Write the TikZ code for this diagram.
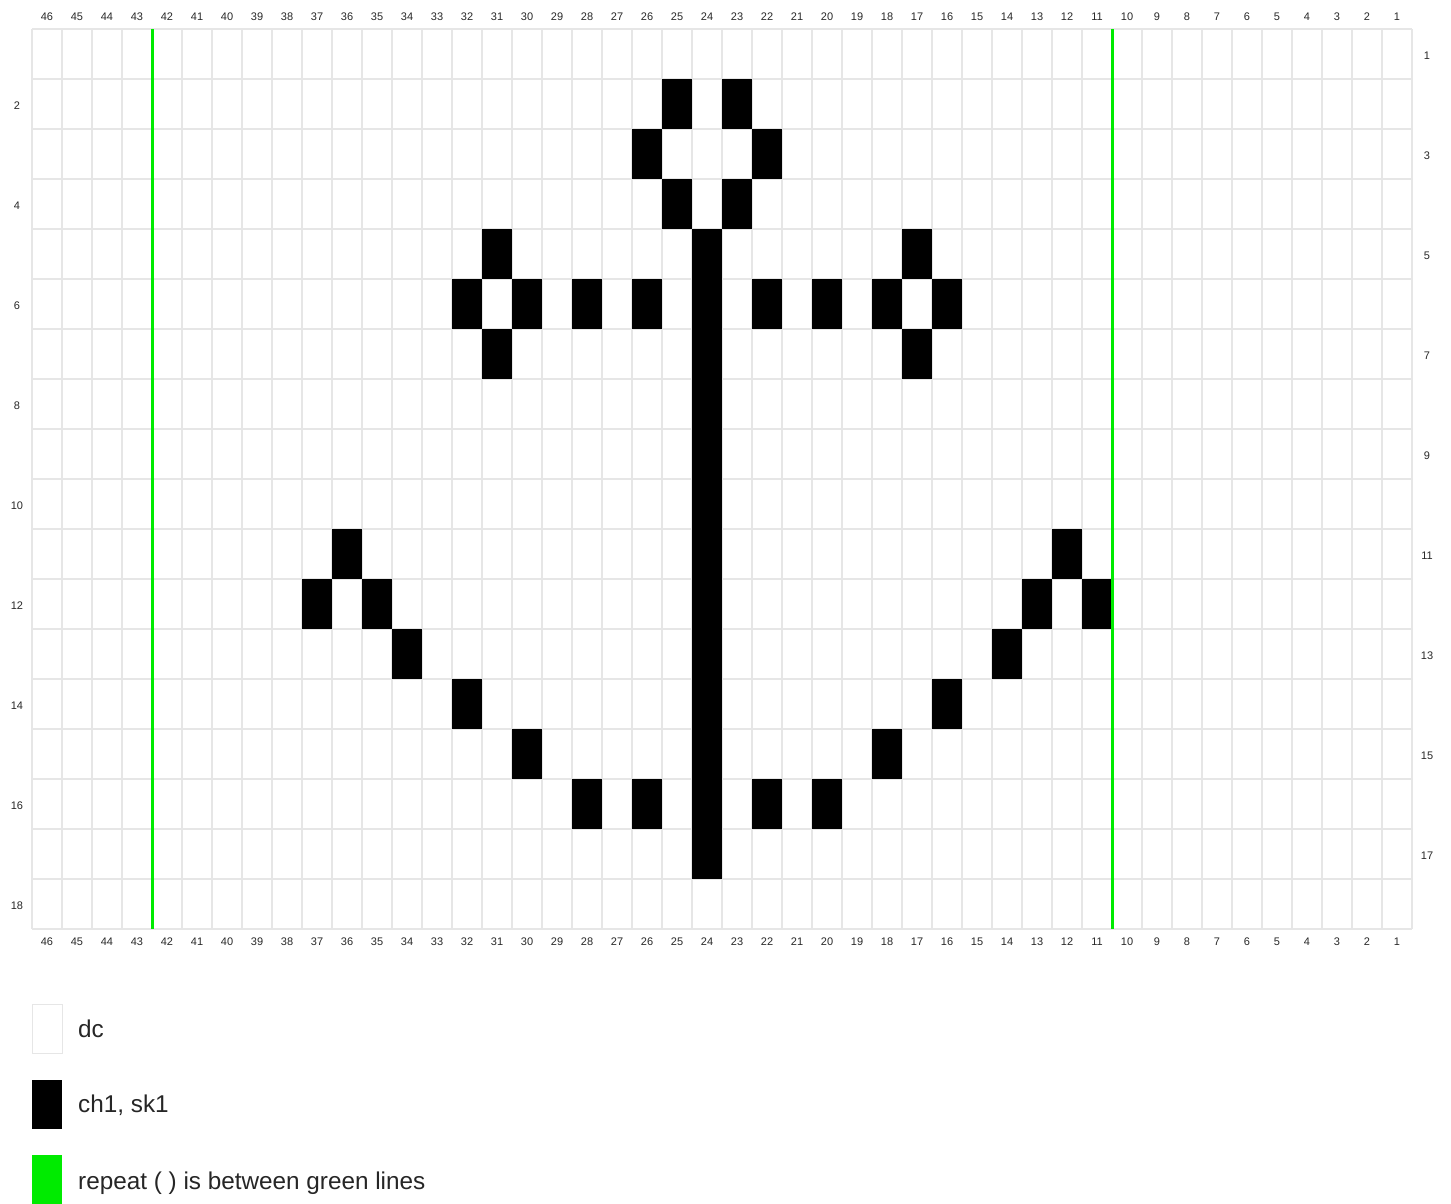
\documentclass[tikz,border=0pt]{standalone}
\usepackage{fontspec}
\setmainfont{Liberation Sans}
\definecolor{gridgray}{RGB}{230,230,230}
\definecolor{repgreen}{RGB}{0,235,0}
\definecolor{labgray}{RGB}{40,40,40}
\tikzset{
  cellgrid/.style={draw=gridgray,line width=1.2pt},
  blackcell/.style={fill=black},
  greenline/.style={draw=repgreen,line width=3pt},
  collab/.style={font=\fontsize{11}{12}\selectfont,text=labgray,inner sep=0pt},
  legtext/.style={font=\fontsize{24.3}{26}\selectfont,text=black!85,anchor=base west,inner sep=0pt},
  legbox/.style={minimum width=30pt,minimum height=49pt,inner sep=0pt,anchor=north west}
}
\begin{document}
\begin{tikzpicture}[x=1pt,y=-1pt]
\useasboundingbox (0,0) rectangle (1451,1203);
\fill[white] (0,0) rectangle (1451,1203);
% grid lines
\foreach \i in {0,...,46}{
  \draw[cellgrid] ({32+\i*30},29) -- ({32+\i*30},929);
}
\foreach \j in {0,...,18}{
  \draw[cellgrid] (32,{29+\j*50}) -- (1412,{29+\j*50});
}
% black cells: column k, row r
\foreach \k/\r in {25/2,23/2,26/3,22/3,25/4,23/4,
  31/5,24/5,17/5,
  32/6,30/6,28/6,26/6,24/6,22/6,20/6,18/6,16/6,
  31/7,24/7,17/7,
  24/8,24/9,24/10,
  36/11,24/11,12/11,
  37/12,35/12,24/12,13/12,11/12,
  34/13,24/13,14/13,
  32/14,24/14,16/14,
  30/15,24/15,18/15,
  28/16,26/16,24/16,22/16,20/16,
  24/17}{
  \fill[blackcell] ({32+(46-\k)*30},{29+(\r-1)*50}) rectangle ++(30,50);
}
% green repeat lines
\coordinate (gLt) at (152,29);
\coordinate (gLb) at (152,929);
\coordinate (gRt) at (1112,29);
\coordinate (gRb) at (1112,929);
\draw[greenline] (gLt) -- (gLb);
\draw[greenline] (gRt) -- (gRb);
% column labels
\foreach \k in {1,...,46}{
  \node[collab] (ct\k) at ({47+(46-\k)*30},17) {\k};
  \node[collab] (cb\k) at ({47+(46-\k)*30},942) {\k};
}
% row labels
\foreach \r in {1,3,...,17}{
  \node[collab] (r\r) at (1427,{56+(\r-1)*50}) {\r};
}
\foreach \r in {2,4,...,18}{
  \node[collab] (r\r) at (17,{56+(\r-1)*50}) {\r};
}
% legend
\node[legbox,draw=gridgray,line width=1pt,fill=white] (lw) at (32,1004) {};
\node[legtext] (tw) at (78,1037) {dc};
\node[legbox,fill=black] (lb) at (32,1080) {};
\node[legtext] (tb) at (78,1112) {ch1, sk1};
\node[legbox,fill=repgreen] (lg) at (32,1155) {};
\node[legtext] (tg) at (78,1189) {repeat ( ) is between green lines};
\end{tikzpicture}
\end{document}
